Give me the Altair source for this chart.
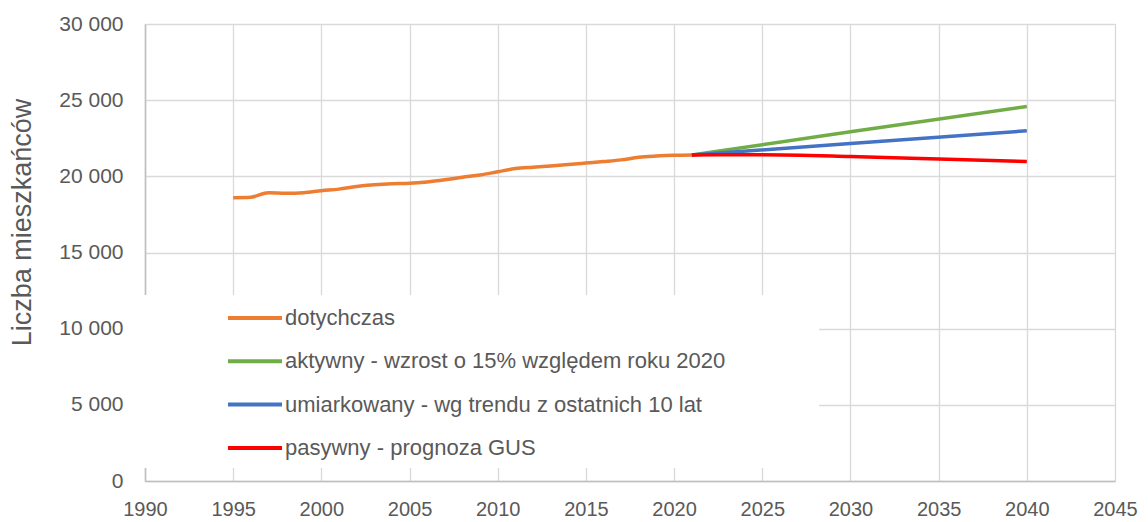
import altair as alt
import pandas as pd

# ---- data ----
hist_years = list(range(1995, 2022))
hist_values = [18600, 18630, 18930, 18890, 18930, 19060, 19160, 19330, 19440, 19510,
               19540, 19630, 19770, 19940, 20090, 20300, 20510, 20600, 20680, 20770,
               20870, 20970, 21080, 21250, 21330, 21380, 21400]

act_years = [2021, 2030, 2040]
act_values = [21400, 22920, 24590]

mod_years = [2021, 2030, 2040]
mod_values = [21400, 22160, 22990]

pas_years = [2021, 2025, 2030, 2035, 2040]
pas_values = [21400, 21420, 21310, 21140, 20970]

series_names = [
    "dotychczas",
    "aktywny - wzrost o 15% względem roku 2020",
    "umiarkowany - wg trendu z ostatnich 10 lat",
    "pasywny - prognoza GUS",
]
series_colors = ["#ED7D31", "#70AD47", "#4472C4", "#FF0000"]

rows = []
for name, ys, vs in zip(series_names,
                        [hist_years, act_years, mod_years, pas_years],
                        [hist_values, act_values, mod_values, pas_values]):
    for y, v in zip(ys, vs):
        rows.append({"rok": y, "wartosc": v, "seria": name})
df = pd.DataFrame(rows)

FONT = "Liberation Sans"
GREY = "#595959"

x_enc = alt.X("rok:Q",
              scale=alt.Scale(domain=[1990, 2045], nice=False, zero=False),
              axis=alt.Axis(values=list(range(1990, 2050, 5)), format="d", title=None,
                            grid=True, gridColor="#d9d9d9", gridWidth=1.3,
                            domainColor="#bfbfbf", domainWidth=1.6,
                            ticks=False, labelPadding=18, labelFlush=False,
                            labelOverlap=False,
                            labelFont=FONT, labelFontSize=20, labelColor=GREY))
y_enc = alt.Y("wartosc:Q",
              scale=alt.Scale(domain=[0, 30000], nice=False),
              axis=alt.Axis(values=list(range(0, 30001, 5000)),
                            labelExpr="replace(format(datum.value, ','), ',', ' ')",
                            title="Liczba mieszkańców", titleFont=FONT, titleFontSize=27,
                            titleFontWeight="normal", titleColor=GREY, titlePadding=22,
                            titleY=198,
                            grid=True, gridColor="#d9d9d9", gridWidth=1.3,
                            domainColor="#bfbfbf", domainWidth=1.6,
                            ticks=False, labelPadding=22, labelFlush=False,
                            labelFont=FONT, labelFontSize=21, labelColor=GREY))

legend_bg = alt.Chart(pd.DataFrame({"a": [0]})).mark_rect(color="white").encode(
    x=alt.value(-2), x2=alt.value(674), y=alt.value(271), y2=alt.value(444)
)

lines = alt.Chart(df).mark_line(strokeWidth=3.5, interpolate="monotone").encode(
    x=x_enc,
    y=y_enc,
    color=alt.Color("seria:N",
                    scale=alt.Scale(domain=series_names, range=series_colors),
                    legend=alt.Legend(title=None, orient="none", legendX=81, legendY=265,
                                      symbolType="stroke", symbolSize=2916,
                                      symbolStrokeWidth=4, labelFont=FONT,
                                      labelFontSize=22, labelColor=GREY,
                                      labelLimit=600, rowPadding=3.3, labelOffset=1,
                                      padding=0)),
    detail="seria:N",
)

chart = alt.layer(legend_bg, lines).properties(
    width=970, height=457,
    padding={"left": 137, "top": 16, "right": 25, "bottom": 41},
    autosize=alt.AutoSizeParams(type="none"),
).configure_view(stroke=None).configure(background="white")

chart.save("out.html", embed_options={"renderer": "svg", "actions": False})
